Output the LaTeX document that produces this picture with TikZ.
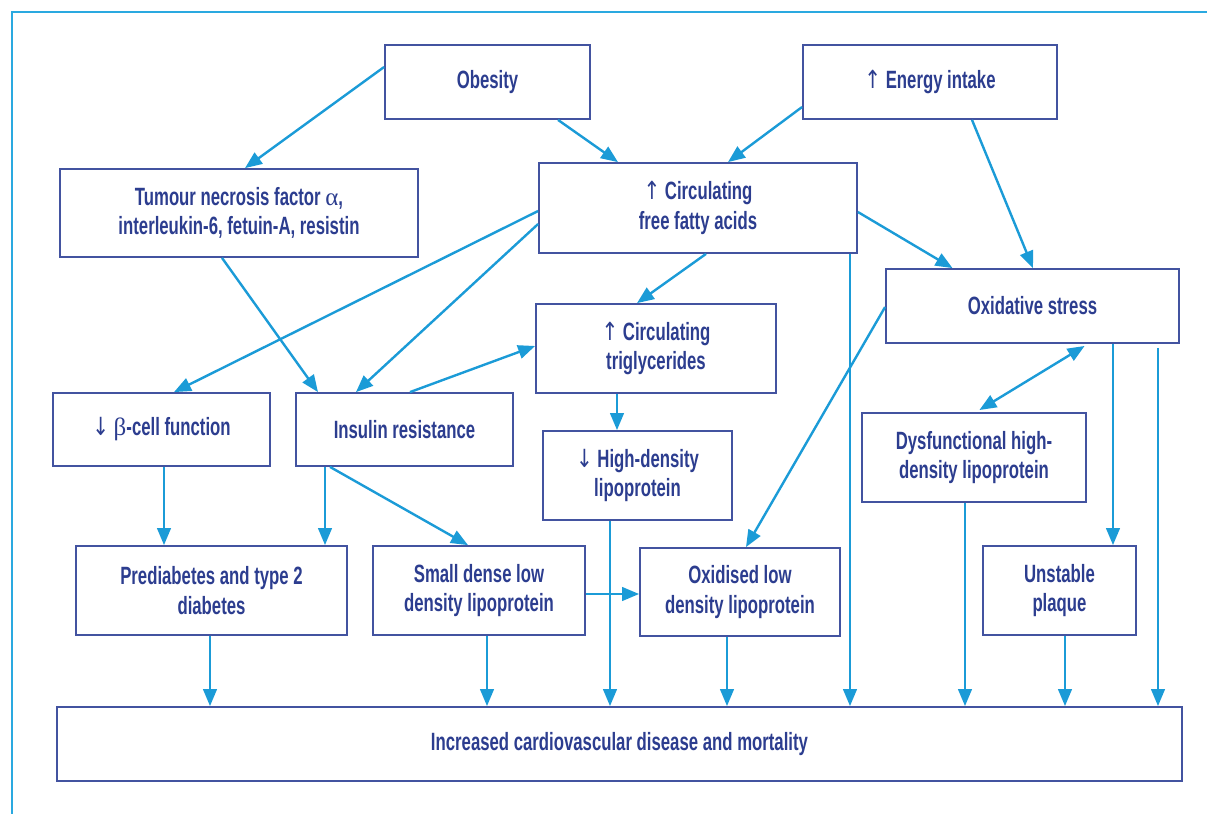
\documentclass[tikz,border=0pt]{standalone}
\usepackage{fontspec}
\setmainfont{Liberation Sans}[FakeStretch=0.67]
\newfontfamily\greekfont{Liberation Serif}
\newfontfamily\arrowfont{DejaVu Sans}[FakeStretch=0.8]
\usetikzlibrary{arrows.meta,calc}
\definecolor{boxblue}{HTML}{4353A0}
\definecolor{textblue}{HTML}{2C3D8F}
\definecolor{linkblue}{HTML}{1B9BD7}
\definecolor{frameblue}{HTML}{2AA9E0}
\newcommand{\up}{{\arrowfont\mdseries ↑}}
\newcommand{\down}{{\arrowfont\mdseries ↓}}

\begin{document}
\begin{tikzpicture}
  [
    x=0.5pt, y=-0.5pt,
    block/.style =
      {draw=boxblue, line width=0.9pt, rectangle, align=center, inner sep=0pt,
       font=\fontsize{12.5}{14.8}\selectfont\bfseries, text=textblue},
    link/.style =
      {-{Triangle[length=8.5pt,width=6.8pt]}, draw=linkblue, line width=1.2pt},
    dlink/.style =
      {{Triangle[length=8.5pt,width=6.8pt]}-{Triangle[length=8.5pt,width=6.8pt]},
       draw=linkblue, line width=1.2pt},
    frame/.style =
      {draw=frameblue, line width=0.8pt}
  ]

\useasboundingbox (0,0) rectangle (1207,814);
\draw [frame] (12,814) -- (12,12) -- (1207,12);

% top row
\node[block, minimum width=102.5pt, minimum height=37pt] (obesity) at (487.5,82) {Obesity};
\node[block, minimum width=127pt, minimum height=37pt] (energy) at (930,82) {\up\ Energy intake};

% second row
\node[block, minimum width=179pt, minimum height=44pt] (tnf) at (239,213)
  {Tumour necrosis factor {\greekfont\mdseries α},\\ interleukin-6, fetuin-A, resistin};
\node[block, minimum width=159pt, minimum height=45pt] (ffa) at (698,208)
  {\up\ Circulating\\ free fatty acids};
\node[block, minimum width=146.5pt, minimum height=37pt] (oxid) at (1032.5,306) {Oxidative stress};
\node[block, minimum width=120pt, minimum height=44.5pt] (trig) at (656,348.5)
  {\up\ Circulating\\ triglycerides};

% middle row
\node[block, minimum width=108.5pt, minimum height=36.5pt] (beta) at (161.5,429.5)
  {\down\ {\greekfont\mdseries β}-cell function};
\node[block, minimum width=108.5pt, minimum height=36.5pt] (insulin) at (404.5,429.5) {Insulin resistance};
\node[block, minimum width=94.5pt, minimum height=44.5pt] (hdl) at (637.5,475.5)
  {\down\ High-density\\ lipoprotein};
\node[block, minimum width=112pt, minimum height=44.5pt] (dhdl) at (974,457.5)
  {Dysfunctional high-\\ density lipoprotein};

% lower row
\node[block, minimum width=135.5pt, minimum height=44.5pt] (prediab) at (211.5,590.5)
  {Prediabetes and type 2\\ diabetes};
\node[block, minimum width=106pt, minimum height=44.5pt] (sdldl) at (479,590.5)
  {Small dense low\\ density lipoprotein};
\node[block, minimum width=100pt, minimum height=44pt] (oxldl) at (740,592)
  {Oxidised low\\ density lipoprotein};
\node[block, minimum width=76.5pt, minimum height=44.5pt] (plaque) at (1059.5,590.5)
  {Unstable\\ plaque};

\node[block, minimum width=562.5pt, minimum height=37pt] (cvd) at (619.5,744)
  {Increased cardiovascular disease and mortality};

% causes
\draw [link] ($(obesity.west)+(0,-15)$) -- ($(tnf.north)+(6,0)$);
\draw [link] ($(obesity.south)+(70.5,0)$) -- ($(ffa.north)+(-80,0)$);
\draw [link] ($(energy.west)+(0,25)$) -- ($(ffa.north)+(30,0)$);
\draw [link] ($(energy.south)+(42,0)$) -- ($(oxid.north)+(0.5,0)$);
\draw [link] ($(ffa.east)+(0,4)$) -- ($(oxid.north)+(-80,0)$);
\draw [link] ($(ffa.south)+(152,0)$) -- ($(cvd.north)+(230.5,0)$);
\draw [link] ($(ffa.south)+(8,0)$) -- ($(trig.north)+(-19,0)$);
\draw [link] ($(ffa.west)+(0,3)$) -- ($(beta.north)+(12.5,0)$);
\draw [link] ($(ffa.west)+(0,16)$) -- ($(insulin.north)+(-48.5,0)$);
\draw [link] ($(tnf.south)+(-17,0)$) -- ($(insulin.north)+(-86.5,0)$);
\draw [link] ($(insulin.north)+(5.5,0)$) -- ($(trig.west)+(0,-2.5)$);
\draw [link] ($(trig.south)+(-39,0)$) -- ($(hdl.north)+(-20.5,0)$);
\draw [link] ($(oxid.west)+(0,1)$) -- ($(oxldl.north)+(6,0)$);
\draw [dlink, shorten <=2pt, shorten >=2pt] ($(oxid.south)+(55.5,0)$) -- ($(dhdl.north)+(2,0)$);
\draw [link] ($(oxid.south)+(80.5,0)$) -- ($(plaque.north)+(53.5,0)$);
\draw [link, shorten <=2pt] ($(oxid.south)+(125.5,0)$) -- ($(cvd.north)+(538.5,0)$);

% consequences
\draw [link] ($(beta.south)+(2.5,0)$) -- ($(prediab.north)+(-47.5,0)$);
\draw [link] ($(insulin.south)+(-79.5,0)$) -- ($(prediab.north)+(113.5,0)$);
\draw [link] ($(insulin.south)+(-74.5,0)$) -- ($(sdldl.north)+(-11,0)$);
\draw [link] ($(sdldl.east)+(0,3.5)$) -- ($(oxldl.west)+(0,2)$);

\draw [link] ($(prediab.south)+(-1.5,0)$) -- ($(cvd.north)+(-409.5,0)$);
\draw [link] ($(sdldl.south)+(8,0)$) -- ($(cvd.north)+(-132.5,0)$);
\draw [link] ($(hdl.south)+(-27.5,0)$) -- ($(cvd.north)+(-9.5,0)$);
\draw [link] ($(oxldl.south)+(-13,0)$) -- ($(cvd.north)+(107.5,0)$);
\draw [link] ($(dhdl.south)+(-9,0)$) -- ($(cvd.north)+(345.5,0)$);
\draw [link] ($(plaque.south)+(5.5,0)$) -- ($(cvd.north)+(445.5,0)$);

\end{tikzpicture}
\end{document}
